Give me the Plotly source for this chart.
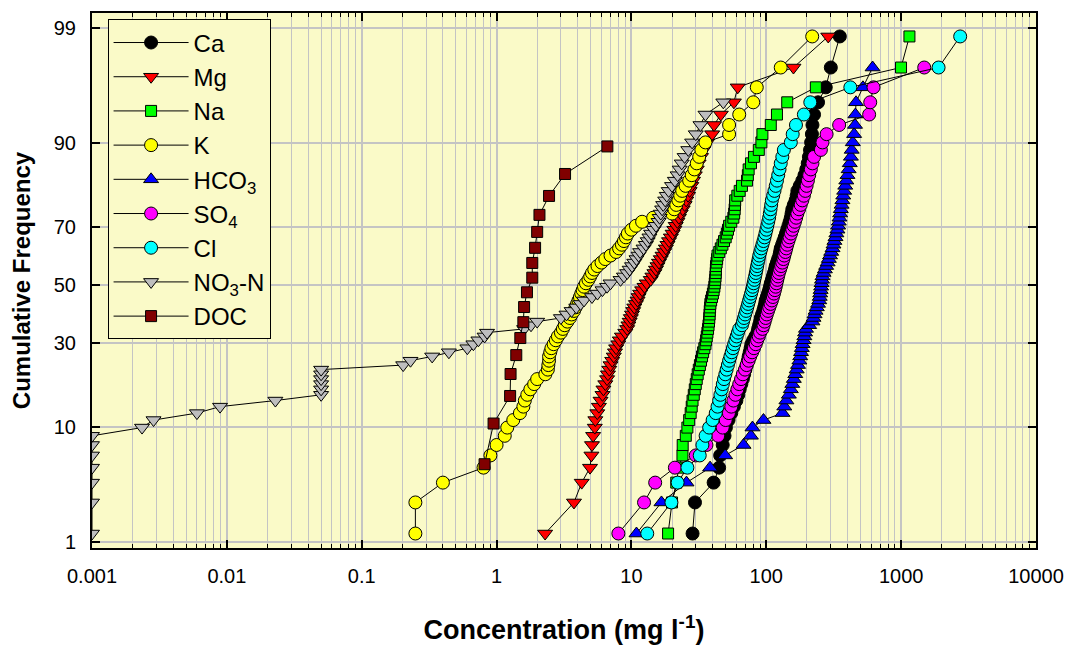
import plotly.graph_objects as go
from statistics import NormalDist

# ---------------- data (concentrations in mg/l, sorted ascending) ----------------
n_samples = 80          # plotting position = rank / (n_samples + 1)
n_doc = 18

ca = [28.4, 29.6, 40.7, 44.7, 45.5, 47.5, 49, 50.2, 52.5, 55, 57.5, 60, 62, 63.5, 65.3, 67,
      68.5, 70, 71.5, 73, 74, 75.3, 76.5, 77.5, 80, 83, 86, 87, 88.5, 90, 91, 93, 95, 96.5,
      98, 99, 101, 103, 105, 106.5, 108, 110, 112, 114, 116, 117.5, 120, 122.5, 125, 126.5,
      128, 131, 134, 137, 140, 143, 146, 149, 152, 154, 156, 160, 165, 168, 170, 177, 185,
      192, 198, 203, 207, 211, 215, 218, 220, 226, 242, 276, 301, 351]
mg = [2.29, 3.75, 4.28, 4.93, 5.05, 5.1, 5.2, 5.35, 5.4, 5.58, 5.74, 5.9, 6.1, 6.2, 6.4, 6.6,
      6.7, 6.85, 7.0, 7.2, 7.4, 7.55, 7.7, 8.0, 8.2, 8.5, 9.0, 9.3, 9.5, 9.7, 9.9, 10.1, 10.3,
      10.5, 10.8, 11.1, 11.3, 11.6, 12.0, 12.5, 13.0, 13.9, 14.3, 14.8, 15.2, 15.6, 16.0, 16.5,
      17.0, 17.5, 18.0, 18.5, 19.0, 19.6, 20.2, 20.8, 21.3, 21.9, 22.5, 23.2, 24.0, 24.8, 25.5,
      26.3, 27.0, 27.8, 28.6, 29.5, 30.5, 31.5, 32.8, 34.2, 36.5, 39.7, 41.0, 46.0, 57.5, 61.4,
      159, 288]
na = [18.7, 20.0, 21.5, 22.5, 23.9, 24.0, 25.3, 26.0, 26.8, 27.5, 28.0, 28.4, 29.0, 29.5, 30.0,
      30.5, 31.0, 31.6, 32.2, 32.8, 33.4, 34.0, 34.7, 35.4, 35.8, 36.2, 36.6, 37.0, 37.3, 37.6,
      37.8, 38.0, 38.1, 38.3, 38.5, 39.0, 39.6, 40.2, 40.7, 41.2, 41.5, 41.8, 42.0, 42.2, 42.3,
      42.4, 42.8, 43.2, 43.5, 44.8, 46.0, 47.3, 48.6, 50.0, 51.0, 52.0, 53.0, 55.0, 57.0, 57.8,
      58.3, 58.6, 58.8, 61.0, 63.5, 66.0, 72.0, 73.0, 74.0, 77.0, 81.0, 88.0, 92.0, 93.6, 108,
      120, 143, 233, 998, 1152]
k = [0.25, 0.25, 0.40, 0.80, 0.90, 1.0, 1.15, 1.2, 1.33, 1.49, 1.58, 1.62, 1.69, 1.78, 1.9, 2.0,
     2.3, 2.4, 2.42, 2.45, 2.45, 2.5, 2.55, 2.65, 2.75, 2.85, 3.0, 3.1, 3.2, 3.35, 3.5, 3.6, 3.75,
     3.85, 3.95, 4.05, 4.15, 4.25, 4.35, 4.45, 4.6, 4.8, 4.95, 5.1, 5.3, 5.6, 6.0, 6.4, 7.0, 7.7,
     8.1, 8.5, 8.8, 9.1, 9.4, 10.0, 10.8, 12.0, 14.5, 20.0, 20.8, 21.5, 22.3, 23.0, 23.8, 25.2,
     26.8, 28, 29.3, 30.5, 31.8, 33, 35.4, 53, 53, 63, 80, 85, 128, 219]
hco3 = [10.9, 16.7, 25.6, 38.3, 49.5, 67.8, 76.9, 79.0, 95.3, 132, 136, 141, 147, 152, 156, 160,
        164, 168, 172, 176, 178.5, 181, 183.5, 186, 189, 191.5, 194, 197, 208, 220, 224, 228,
        232, 237, 242, 247, 249, 251, 253, 255, 257, 259, 261, 266, 272, 278, 285, 291, 297,
        303, 310, 315, 320, 326, 331, 337, 341, 345, 349, 353, 357, 362, 367, 372, 378, 385,
        392, 400, 408, 416, 424, 430, 438, 448, 455, 458, 463, 521, 614]
so4 = [8.0, 12.4, 15.0, 21.0, 30.0, 36.0, 44.0, 47.5, 50, 52.8, 55, 57, 59, 61, 63, 65, 67,
       69.5, 71.5, 74, 76, 78.5, 81, 83.5, 85.5, 88, 90, 93.7, 95.5, 97.3, 99, 100.9, 103, 105.3,
       107.6, 110, 112, 114, 115.8, 117.5, 119, 120.6, 122.3, 124, 126.5, 129, 131.5, 134, 136,
       138.5, 140.7, 143, 146, 149, 152.5, 156, 159.5, 163, 166.5, 170, 175, 180, 185, 190,
       194.5, 199, 203.5, 208, 214, 220, 226, 254, 261, 280, 347, 579, 590, 624, 1483]
cl = [13.1, 19.8, 22.0, 26.0, 32.1, 33.6, 35.5, 37.7, 40.0, 42.2, 43.5, 44.7, 45.7, 46.7, 47.6,
      48.6, 49.7, 50.8, 51.9, 53.0, 54.2, 55.4, 56.6, 57.8, 59.0, 60.3, 61.6, 63.0, 66.0, 67.2,
      68.4, 69.6, 70.9, 72.2, 73.4, 74.6, 75.9, 77.1, 78.4, 79.4, 80.5, 81.5, 82.6, 83.6, 84.6,
      85.6, 86.6, 87.7, 88.7, 90.3, 91.9, 93.6, 95.3, 97.0, 98.6, 100.2, 101.8, 103.4, 105,
      106.2, 107.5, 108.7, 110, 112.5, 115, 117.5, 120, 122.6, 125.3, 128, 131.5, 135, 152, 157,
      166, 190, 212, 420, 1895, 2740]
no3n = [0.001, 0.001, 0.001, 0.001, 0.001, 0.001, 0.001, 0.00235, 0.00286, 0.006, 0.0089,
        0.0229, 0.05, 0.05, 0.05, 0.05, 0.05, 0.05, 0.203, 0.23, 0.333, 0.443, 0.607, 0.673,
        0.733, 0.815, 0.85, 1.6, 1.8, 2.0, 3.0, 3.3, 3.6, 3.9, 4.2, 4.45, 5.1, 5.6, 6.1, 6.6,
        7.0, 8.3, 8.8, 9.3, 9.7, 10.1, 10.5, 10.9, 11.3, 11.6, 12.3, 12.8, 13.2, 13.6, 14.0,
        14.6, 15.2, 15.9, 16.2, 16.5, 16.9, 17.2, 17.8, 18.3, 18.9, 20.0, 21.0, 22.0, 22.8,
        23.6, 24.8, 26.4, 28.2, 30, 32.5, 35.4, 48]
doc = [0.815, 0.95, 1.26, 1.27, 1.40, 1.50, 1.58, 1.60, 1.68, 1.84, 1.84, 1.93, 2.0, 2.08,
       2.45, 3.22, 6.63]

x_tickvals = [0.001, 0.01, 0.1, 1, 10, 100, 1000, 10000]
x_ticktext = ["0.001", "0.01", "0.1", "1", "10", "100", "1000", "10000"]
y_tick_pct = [1, 10, 30, 50, 70, 90, 99]

# ---------------- styling ----------------
FONT = "Liberation Sans, Arial, sans-serif"
BG = "#FAFAC8"
GRID = "#C4C4C4"

series = [
    ("Ca", ca, n_samples, "circle", "#000000", 13),
    ("Mg", mg, n_samples, "triangle-down", "#FF0000", 13),
    ("Na", na, n_samples, "square", "#00FF00", 11),
    ("K", k, n_samples, "circle", "#FFFF00", 13),
    ("HCO<sub>3</sub>", hco3, n_samples, "triangle-up", "#0000FF", 13),
    ("SO<sub>4</sub>", so4, n_samples, "circle", "#FF00FF", 13),
    ("Cl", cl, n_samples, "circle", "#00FFFF", 13),
    ("NO<sub>3</sub>-N", no3n, n_samples, "triangle-down", "#BEBEBE", 13),
    ("DOC", doc, n_doc, "square", "#800000", 11),
]

nd = NormalDist()


def probit(pct):
    return nd.inv_cdf(pct / 100.0)


fig = go.Figure()
for name, vals, n, sym, col, size in series:
    ys = [nd.inv_cdf((i + 1) / (n + 1)) for i in range(len(vals))]
    fig.add_trace(go.Scatter(
        x=vals, y=ys, name=name, mode="lines+markers",
        line=dict(color="black", width=1),
        marker=dict(symbol=sym, size=size, color=col, line=dict(color="black", width=1)),
    ))

minor_vals = [m * 10 ** e for e in range(-3, 4) for m in range(2, 10)]

fig.update_layout(
    width=1069, height=648,
    margin=dict(l=92, r=33, t=13, b=100, autoexpand=False),
    paper_bgcolor="white", plot_bgcolor=BG,
    font=dict(family=FONT, size=20, color="black"),
    showlegend=True,
    legend=dict(
        x=0.0165, y=0.988, xanchor="left", yanchor="top",
        bgcolor=BG, bordercolor="black", borderwidth=1,
        font=dict(family=FONT, size=24, color="black"),
        itemwidth=75, tracegroupgap=0,
    ),
    xaxis=dict(
        type="log", range=[-3, 4],
        tickmode="array", tickvals=x_tickvals, ticktext=x_ticktext,
        ticks="inside", ticklen=8, tickwidth=1.5, tickcolor="black",
        ticklabelstandoff=9,
        showline=True, linecolor="black", linewidth=2, mirror="allticks",
        showgrid=True, gridcolor=GRID, gridwidth=1.5,
        minor=dict(tickmode="array", tickvals=minor_vals, ticks="inside", ticklen=4,
                   tickwidth=1, tickcolor="black", showgrid=True, gridcolor=GRID, gridwidth=1),
        zeroline=False,
        tickfont=dict(family=FONT, size=20),
        title=dict(text="<b>Concentration (mg l<sup>-1</sup>)</b>",
                   font=dict(family=FONT, size=27), standoff=34),
    ),
    yaxis=dict(
        range=[-2.377, 2.458],
        tickmode="array", tickvals=[probit(p) for p in y_tick_pct],
        ticktext=[str(p) for p in y_tick_pct],
        ticks="inside", ticklen=8, tickwidth=1.5, tickcolor="black",
        ticklabelstandoff=10,
        showline=True, linecolor="black", linewidth=2, mirror="allticks",
        showgrid=True, gridcolor=GRID, gridwidth=1.5,
        zeroline=False,
        tickfont=dict(family=FONT, size=20),
        title=dict(text="<b>Cumulative Frequency</b>",
                   font=dict(family=FONT, size=24), standoff=16),
    ),
)

fig.write_html("out.html")
